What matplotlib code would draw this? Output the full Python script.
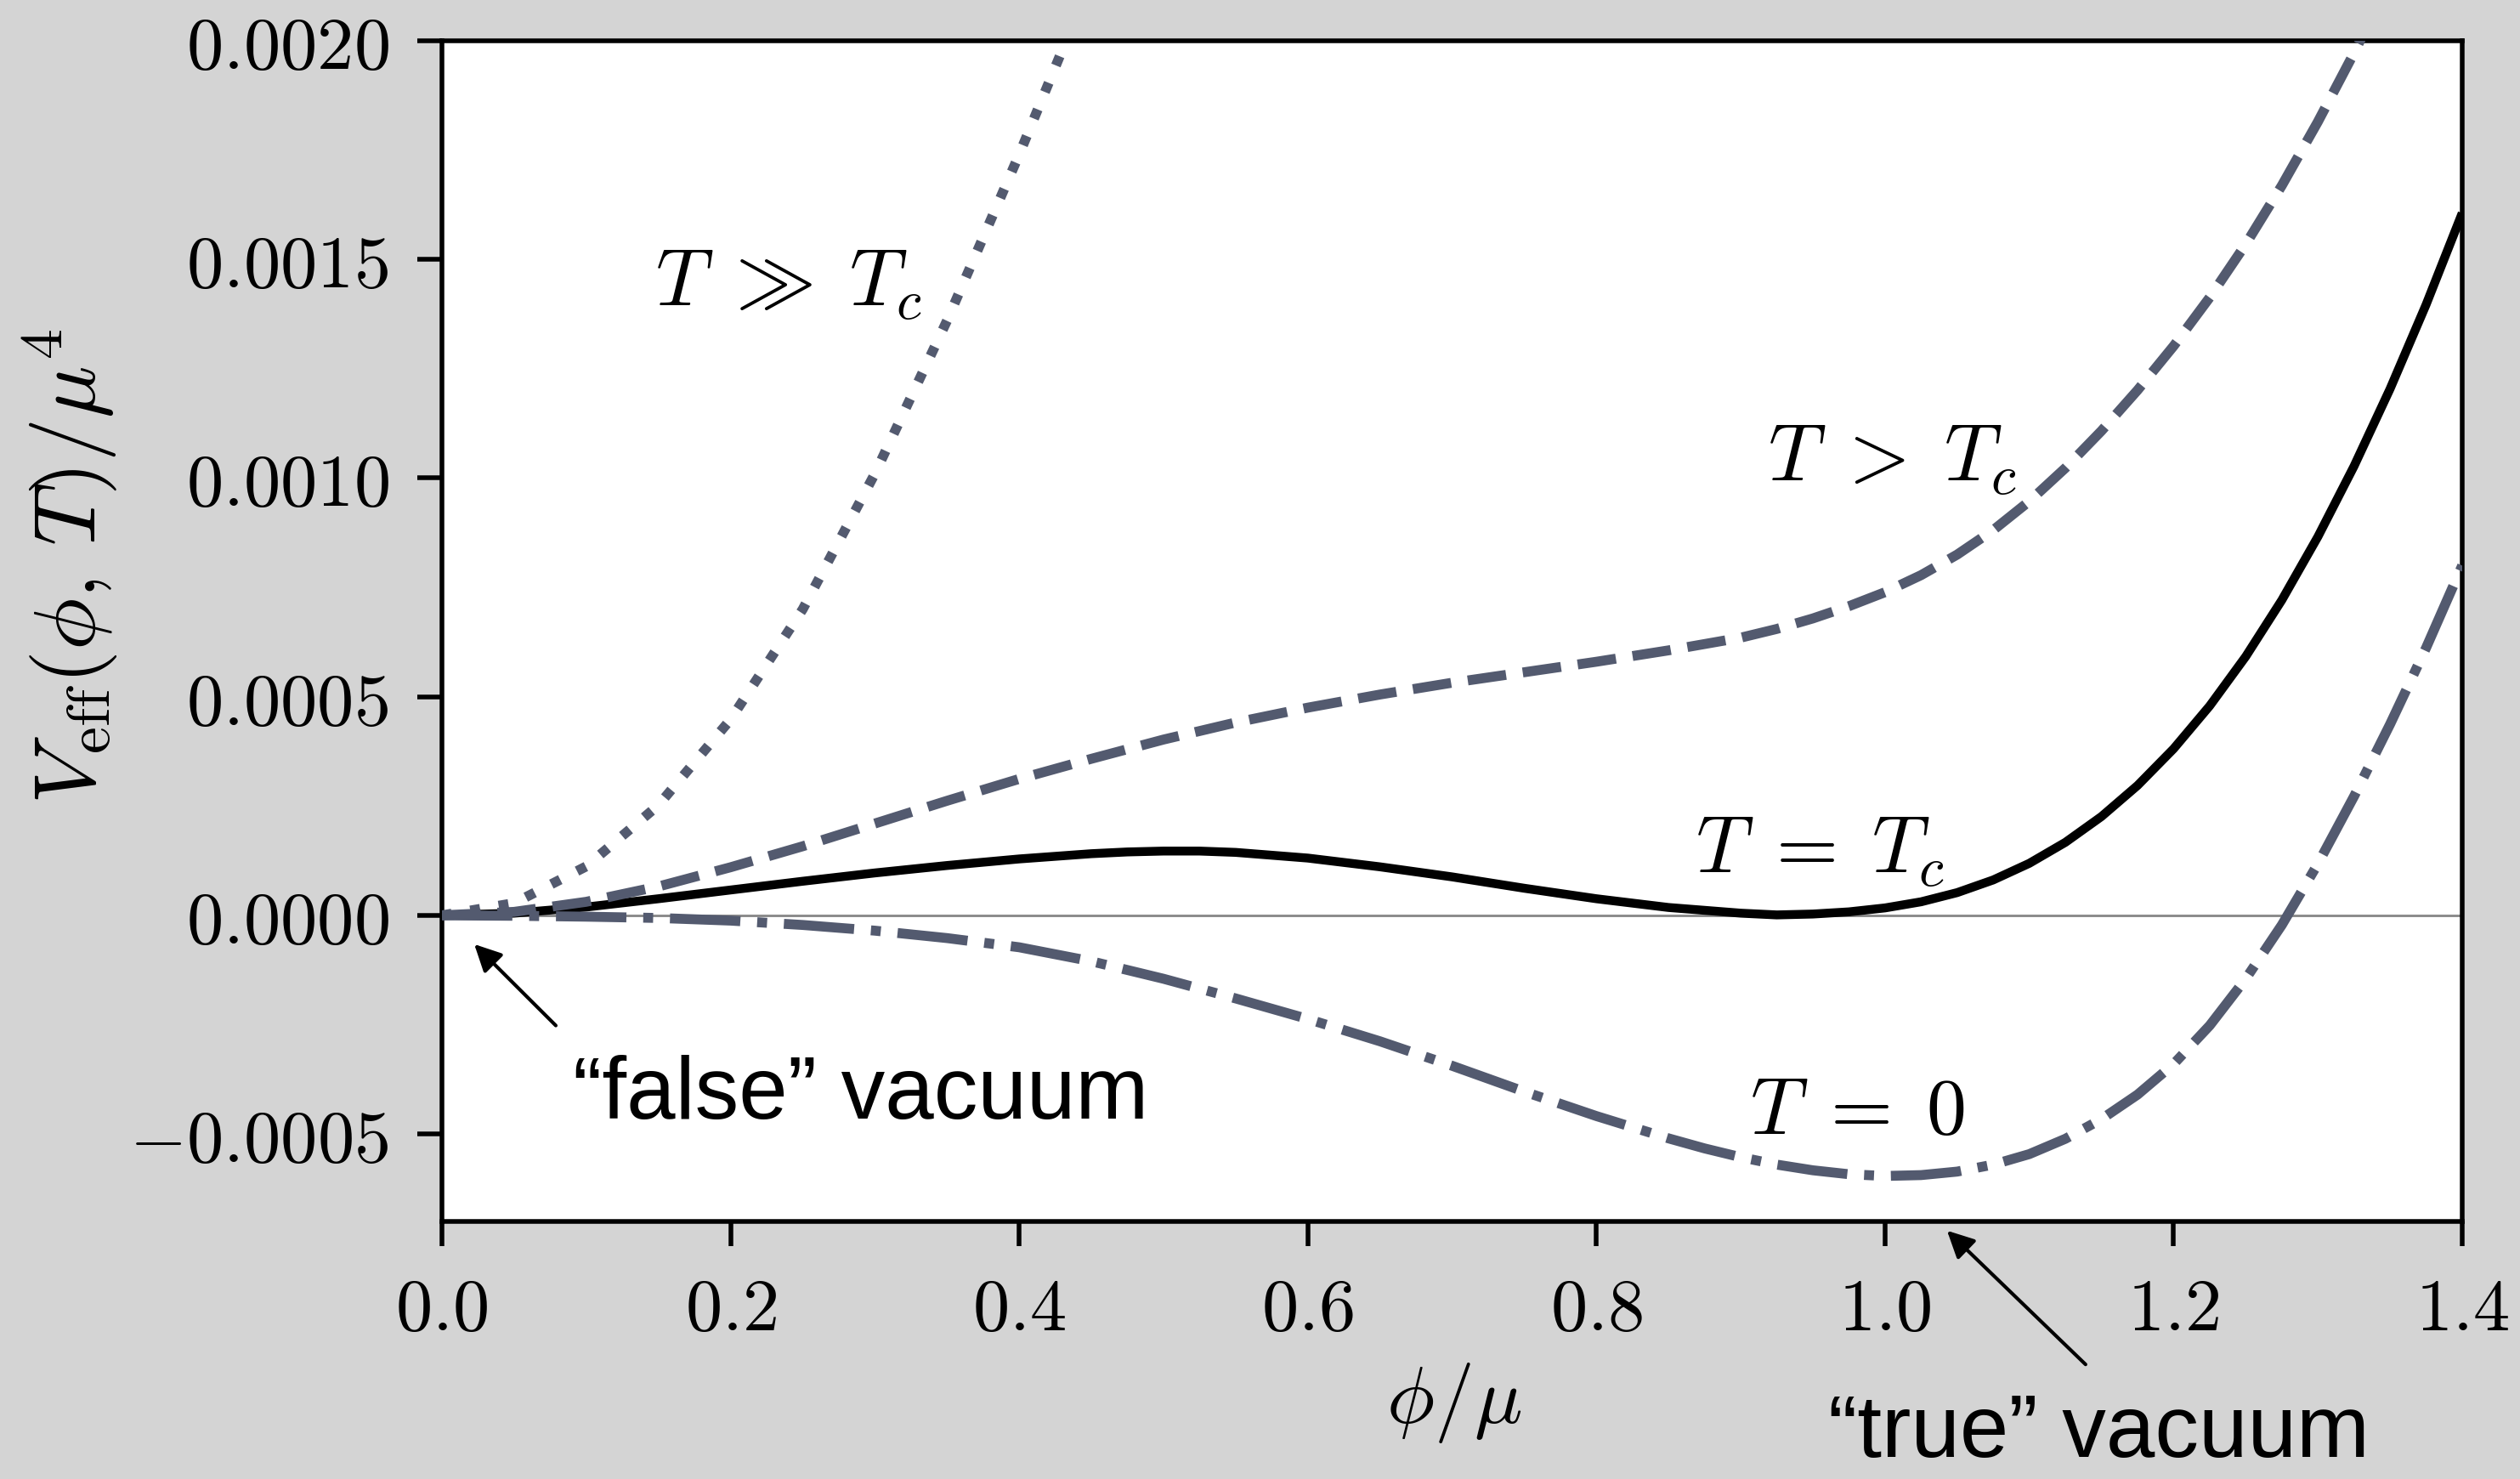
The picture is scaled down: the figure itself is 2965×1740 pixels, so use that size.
import matplotlib
matplotlib.use("Agg")
import matplotlib.pyplot as plt

plt.rcParams["mathtext.fontset"] = "cm"

# ---------------- data ----------------
phi_hot = [0.00, 0.05, 0.10, 0.15, 0.20, 0.25, 0.30, 0.35, 0.40, 0.45]
v_hot = [0.0, 2.8e-5, 1.12e-4, 2.52e-4, 4.48e-4, 7.00e-4, 1.01e-3, 1.36e-3, 1.74e-3, 2.14e-3]

phi_above = [0.00, 0.05, 0.10, 0.15, 0.20, 0.25, 0.30, 0.35, 0.40, 0.45, 0.50, 0.55, 0.60,
             0.65, 0.70, 0.75, 0.80, 0.85, 0.90, 0.925, 0.95, 0.975, 1.00, 1.025, 1.05,
             1.075, 1.10, 1.125, 1.15, 1.175, 1.20, 1.225, 1.25, 1.275, 1.30, 1.325, 1.35]
v_above = [0.0, 8e-6, 3.1e-5, 6.6e-5, 1.10e-4, 1.58e-4, 2.10e-4, 2.62e-4, 3.12e-4, 3.58e-4,
           4.02e-4, 4.41e-4, 4.75e-4, 5.05e-4, 5.32e-4, 5.56e-4, 5.80e-4, 6.06e-4, 6.35e-4,
           6.55e-4, 6.79e-4, 7.07e-4, 7.39e-4, 7.78e-4, 8.25e-4, 8.81e-4, 9.47e-4, 1.023e-3,
           1.108e-3, 1.201e-3, 1.302e-3, 1.413e-3, 1.535e-3, 1.669e-3, 1.815e-3, 1.972e-3,
           2.140e-3]

phi_crit = [0.00, 0.05, 0.10, 0.15, 0.20, 0.25, 0.30, 0.35, 0.40, 0.45, 0.475, 0.50, 0.525,
            0.55, 0.60, 0.65, 0.70, 0.75, 0.80, 0.85, 0.90, 0.925, 0.95, 0.975, 1.00, 1.025,
            1.05, 1.075, 1.10, 1.125, 1.15, 1.175, 1.20, 1.225, 1.25, 1.275, 1.30, 1.325,
            1.35, 1.375, 1.40]
v_crit = [0.0, 5e-6, 1.9e-5, 3.8e-5, 5.8e-5, 7.8e-5, 9.7e-5, 1.14e-4, 1.29e-4, 1.41e-4,
          1.45e-4, 1.47e-4, 1.47e-4, 1.44e-4, 1.31e-4, 1.11e-4, 8.8e-5, 6.2e-5, 3.8e-5,
          1.8e-5, 5e-6, 1e-6, 3e-6, 8e-6, 1.7e-5, 3.1e-5, 5.2e-5, 8.1e-5, 1.19e-4, 1.67e-4,
          2.26e-4, 2.97e-4, 3.81e-4, 4.79e-4, 5.92e-4, 7.21e-4, 8.66e-4, 1.027e-3, 1.204e-3,
          1.397e-3, 1.606e-3]

phi_zero = [0.00, 0.05, 0.10, 0.15, 0.20, 0.25, 0.30, 0.35, 0.40, 0.45, 0.50, 0.55, 0.60,
            0.65, 0.70, 0.75, 0.80, 0.85, 0.875, 0.90, 0.925, 0.95, 0.975, 1.00, 1.025, 1.05,
            1.075, 1.10, 1.125, 1.15, 1.175, 1.20, 1.225, 1.25, 1.275, 1.30, 1.325, 1.35,
            1.375, 1.40]
v_zero = [0.0, -1e-6, -3e-6, -6e-6, -1.2e-5, -2.2e-5, -3.5e-5, -5.2e-5, -7.3e-5, -1.05e-4,
          -1.45e-4, -1.90e-4, -2.37e-4, -2.88e-4, -3.44e-4, -4.03e-4, -4.59e-4, -5.10e-4,
          -5.33e-4, -5.53e-4, -5.70e-4, -5.83e-4, -5.92e-4, -5.96e-4, -5.94e-4, -5.86e-4,
          -5.70e-4, -5.46e-4, -5.11e-4, -4.66e-4, -4.10e-4, -3.40e-4, -2.52e-4, -1.45e-4,
          -2.2e-5, 1.18e-4, 2.72e-4, 4.37e-4, 6.12e-4, 8.00e-4]

x_ticks = [0.0, 0.2, 0.4, 0.6, 0.8, 1.0, 1.2, 1.4]
x_tick_labels = [r"$0.0$", r"$0.2$", r"$0.4$", r"$0.6$", r"$0.8$", r"$1.0$", r"$1.2$", r"$1.4$"]
y_ticks = [-0.0005, 0.0, 0.0005, 0.0010, 0.0015, 0.0020]
y_tick_labels = [r"$-0.0005$", r"$0.0000$", r"$0.0005$", r"$0.0010$", r"$0.0015$", r"$0.0020$"]

curve_labels = [r"$T\;\gg\;T_c$", r"$T\;>\;T_c$", r"$T\;=\;T_c$", r"$T\;=\;0$"]
curve_label_pos = [(0.240, 0.001393), (1.005, 0.000994), (0.955, 0.000097), (0.981, -0.000500)]

# ---------------- figure ----------------
DPI = 600
fig = plt.figure(figsize=(2965 / DPI, 1740 / DPI), dpi=DPI, facecolor="#d4d4d4")
ax = fig.add_axes([0.17538, 0.17414, 0.97707 - 0.17538, 0.97241 - 0.17414])
ax.set_facecolor("white")

gray = "#535a6f"
glw = 1.4

ax.axhline(0.0, color="#8a8a8a", lw=0.35, zorder=1)
ax.plot(phi_crit, v_crit, color="black", lw=1.25, solid_capstyle="butt",
        solid_joinstyle="round", zorder=2)
ax.plot(phi_hot, v_hot, color=gray, lw=glw, linestyle=(0, (1, 1.9)), zorder=3)
ax.plot(phi_above, v_above, color=gray, lw=glw, linestyle=(0, (3.9, 1.7)), zorder=3)
ax.plot(phi_zero, v_zero, color=gray, lw=glw, linestyle=(0, (7.1, 1.7, 1, 1.7)), zorder=3)

for lab, (px, py) in zip(curve_labels, curve_label_pos):
    ax.text(px, py, lab, fontsize=11.3, ha="center", va="baseline", color="black", zorder=4)

ax.set_xlim(0.0, 1.4)
ax.set_ylim(-0.0007, 0.0020)
ax.set_xticks(x_ticks)
ax.set_xticklabels(x_tick_labels)
ax.set_yticks(y_ticks)
ax.set_yticklabels(y_tick_labels)
ax.tick_params(direction="out", length=3.5, width=0.66, top=False, right=False,
               labelsize=10.4, pad=4, colors="black")
for sp in ax.spines.values():
    sp.set_linewidth(0.66)
    sp.set_color("black")

ax.set_xlabel(r"$\phi/\mu$", fontsize=11.3, va="center")
ax.xaxis.set_label_coords(0.501, -0.154)
ax.set_ylabel(r"$V_{\rm eff}(\phi,\,T)/\mu^4$", fontsize=12.3, va="center")
ax.yaxis.set_label_coords(-0.1843, 0.555)

# annotations
arrow_kw = dict(arrowstyle="-|>", color="black", lw=0.5, mutation_scale=8,
                shrinkA=0, shrinkB=0)
ax.annotate("", xy=(0.0224, -0.000066), xytext=(0.0789, -0.000252),
            arrowprops=arrow_kw, annotation_clip=False)
ax.text(0.0905, -0.000465, "\u201cfalse\u201d vacuum", fontsize=12.4,
        family=["Liberation Sans", "DejaVu Sans"], ha="left", va="baseline")

ax.annotate("", xy=(1.043, -0.000721), xytext=(1.139, -0.001027),
            arrowprops=arrow_kw, annotation_clip=False)
ax.text(1.148, -0.001238, "\u201ctrue\u201d vacuum", fontsize=12.4,
        family=["Liberation Sans", "DejaVu Sans"], ha="center", va="baseline", clip_on=False)

fig.savefig("out.png", dpi=DPI, facecolor=fig.get_facecolor())
